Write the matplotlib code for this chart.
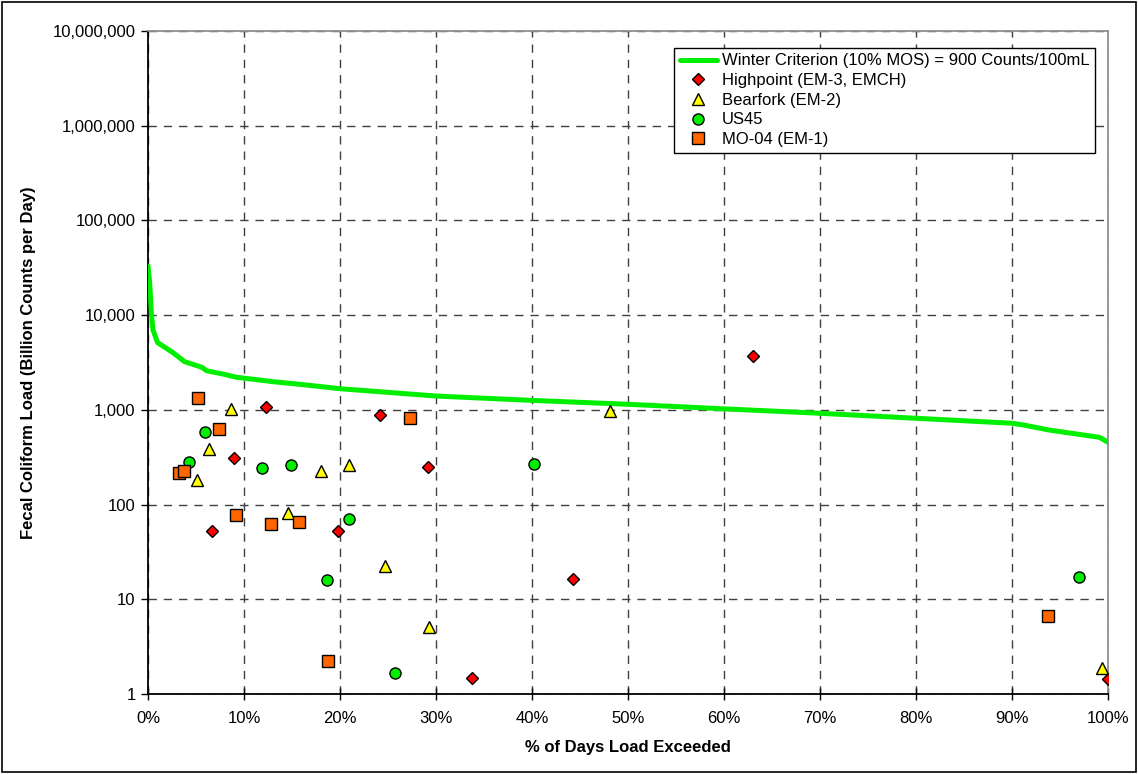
import matplotlib
matplotlib.use("Agg")
from matplotlib import pyplot as plt
from matplotlib.patches import Rectangle
from matplotlib.ticker import FuncFormatter, FixedLocator, NullLocator


# Winter criterion load duration curve (x in % of days, y in billion counts/day)
crit_x = [0, 0.18, 0.35, 0.52, 1.0, 2.6, 3.8, 5.6, 6.1, 7.8, 9.2, 13.0, 16.5, 19.9,
          30.0, 39.9, 50.0, 60.0, 70.0, 80.0, 90.0, 91.2, 93.8, 99.1, 100]
crit_y = [33000, 21700, 10500, 6980, 5130, 4020, 3230, 2820, 2590, 2390, 2210, 1985,
          1830, 1675, 1400, 1260, 1145, 1025, 920, 815, 722, 692, 614, 513, 455]

# Highpoint (EM-3, EMCH)
hp_x = [6.7, 9.0, 12.3, 19.8, 24.2, 29.2, 33.7, 44.3, 63.0, 100.0]
hp_y = [52, 313, 1070, 52, 883, 248, 1.49, 16.3, 3735, 1.44]

# Bearfork (EM-2)
bf_x = [5.1, 6.4, 8.65, 14.55, 18.0, 20.9, 24.7, 29.3, 48.1, 99.4]
bf_y = [182, 384, 1015, 81, 226, 262, 22.6, 5.1, 980, 1.87]

# US45
us_x = [4.3, 5.9, 11.9, 14.9, 18.6, 20.9, 25.7, 40.2, 97.0]
us_y = [282, 588, 242, 262, 16.1, 70, 1.68, 266, 17.1]

# MO-04 (EM-1)
mo_x = [3.2, 3.7, 5.25, 7.4, 9.2, 12.85, 15.75, 18.7, 27.3, 93.8]
mo_y = [217, 226, 1325, 624, 78, 62, 65, 2.23, 815, 6.7]

y_ticks = [1, 10, 100, 1000, 10000, 100000, 1000000, 10000000]
x_ticks = [0, 10, 20, 30, 40, 50, 60, 70, 80, 90, 100]


def main():
    plt.rcParams['font.family'] = ['Liberation Sans', 'DejaVu Sans']

    fig = plt.figure(figsize=(11.38, 7.74), dpi=100)
    ax = fig.add_axes([148 / 1138, 1 - 694 / 774, 960 / 1138, 663 / 774])

    ax.plot(crit_x, crit_y, color='#00ee00', linewidth=3.6, solid_capstyle='round',
            label='Winter Criterion (10% MOS) = 900 Counts/100mL', zorder=3)
    ax.plot(hp_x, hp_y, linestyle='none', marker='D', markersize=6.5, markerfacecolor='#ff0000',
            markeredgecolor='black', markeredgewidth=1, label='Highpoint (EM-3, EMCH)', zorder=4)
    ax.plot(bf_x, bf_y, linestyle='none', marker='^', markersize=8.5, markerfacecolor='#ffff00',
            markeredgecolor='black', markeredgewidth=1, label='Bearfork (EM-2)', zorder=4)
    ax.plot(us_x, us_y, linestyle='none', marker='o', markersize=8, markerfacecolor='#00ee00',
            markeredgecolor='black', markeredgewidth=1, label='US45', zorder=4)
    ax.plot(mo_x, mo_y, linestyle='none', marker='s', markersize=8.2, markerfacecolor='#ff6600',
            markeredgecolor='black', markeredgewidth=1, label='MO-04 (EM-1)', zorder=4)

    ax.set_yscale('log')
    ax.set_ylim(1, 10000000)
    ax.set_xlim(0, 100)
    ax.yaxis.set_major_locator(FixedLocator(y_ticks))
    ax.yaxis.set_minor_locator(NullLocator())
    ax.yaxis.set_major_formatter(FuncFormatter(lambda v, p: f'{v:,.0f}'))
    ax.xaxis.set_major_locator(FixedLocator(x_ticks))
    ax.xaxis.set_major_formatter(FuncFormatter(lambda v, p: f'{v:.0f}%'))

    ax.grid(True, which='major', color='#404040', linestyle=(0, (6, 5)), linewidth=1)
    ax.set_axisbelow(True)

    ax.tick_params(axis='y', direction='out', length=5, width=1, labelsize=12, pad=4)
    ax.tick_params(axis='x', direction='inout', length=8, width=1, labelsize=12, pad=8)

    for side in ['left', 'bottom']:
        ax.spines[side].set_color('black')
        ax.spines[side].set_linewidth(1.3)
    for side in ['top', 'right']:
        ax.spines[side].set_color('#909090')
        ax.spines[side].set_linewidth(1.3)

    ax.set_xlabel('% of Days Load Exceeded', fontsize=12, fontweight='bold', labelpad=10)
    ax.set_ylabel('Fecal Coliform Load (Billion Counts per Day)', fontsize=12,
                  fontweight='bold', labelpad=12)

    leg = ax.legend(loc='upper right', bbox_to_anchor=(0.9865, 0.975), fontsize=12,
                    frameon=True, fancybox=False, framealpha=1, edgecolor='black',
                    borderpad=0.35, labelspacing=0.28, handlelength=2.2, handletextpad=0.3,
                    borderaxespad=0)
    leg.get_frame().set_linewidth(1)

    # chart area border
    fig.patches.append(Rectangle((0.002, 0.002), 0.996, 0.996, transform=fig.transFigure,
                                 fill=False, edgecolor='black', linewidth=1.2))

    plt.savefig('out.png', dpi=100)
    plt.close()


if __name__ == '__main__':
    main()
